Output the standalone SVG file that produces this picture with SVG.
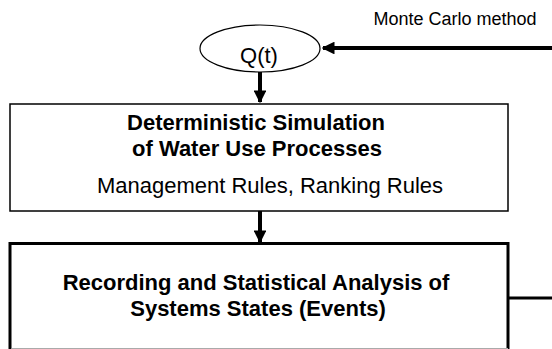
<svg xmlns="http://www.w3.org/2000/svg" width="552" height="349" viewBox="0 0 552 349">
<style>
text{font-family:"Liberation Sans",Arial,sans-serif;fill:#000}
.b{font-weight:bold;font-size:22px}
.r{font-size:22px}
.s{font-size:18px}
.thick{stroke:#000;stroke-width:4;fill:none}
</style>
<defs>
<marker id="ah" viewBox="0 0 10 10" refX="9" refY="5" markerWidth="3.2" markerHeight="3.2" markerUnits="strokeWidth" orient="auto">
<path d="M0,0 L10,5 L0,10 z" fill="#000"/>
</marker>
</defs>
<rect width="552" height="349" fill="#fff"/>
<g id="connectors">
<line class="thick" x1="552" y1="48" x2="323" y2="48" marker-end="url(#ah)"/>
<line class="thick" x1="260" y1="72" x2="260" y2="102" marker-end="url(#ah)"/>
<line class="thick" x1="260" y1="211" x2="260" y2="242" marker-end="url(#ah)"/>
<line stroke="#000" stroke-width="3" x1="508" y1="298" x2="552" y2="298"/>
</g>
<g id="monte-carlo">
<text class="s" x="455" y="25" text-anchor="middle">Monte Carlo method</text>
</g>
<g id="qt">
<ellipse cx="260" cy="48.5" rx="60" ry="23.5" fill="#fff" stroke="#000" stroke-width="1.2"/>
<text class="r" x="259" y="63" text-anchor="middle">Q(t)</text>
</g>
<g id="simulation">
<rect x="10" y="104" width="498" height="107" fill="none" stroke="#000" stroke-width="1.5"/>
<text class="b" x="256" y="130" text-anchor="middle">Deterministic Simulation</text>
<text class="b" x="257" y="156" text-anchor="middle">of Water Use Processes</text>
<text class="r" x="270" y="193" text-anchor="middle">Management Rules, Ranking Rules</text>
</g>
<g id="recording">
<rect x="10" y="243.5" width="498" height="110" fill="none" stroke="#000" stroke-width="3"/>
<line x1="11.5" y1="348.5" x2="508" y2="348.5" stroke="#aaa" stroke-width="1"/>
<text class="b" x="256" y="290" text-anchor="middle">Recording and Statistical Analysis of</text>
<text class="b" x="258" y="316" text-anchor="middle">Systems States (Events)</text>
</g>
</svg>
